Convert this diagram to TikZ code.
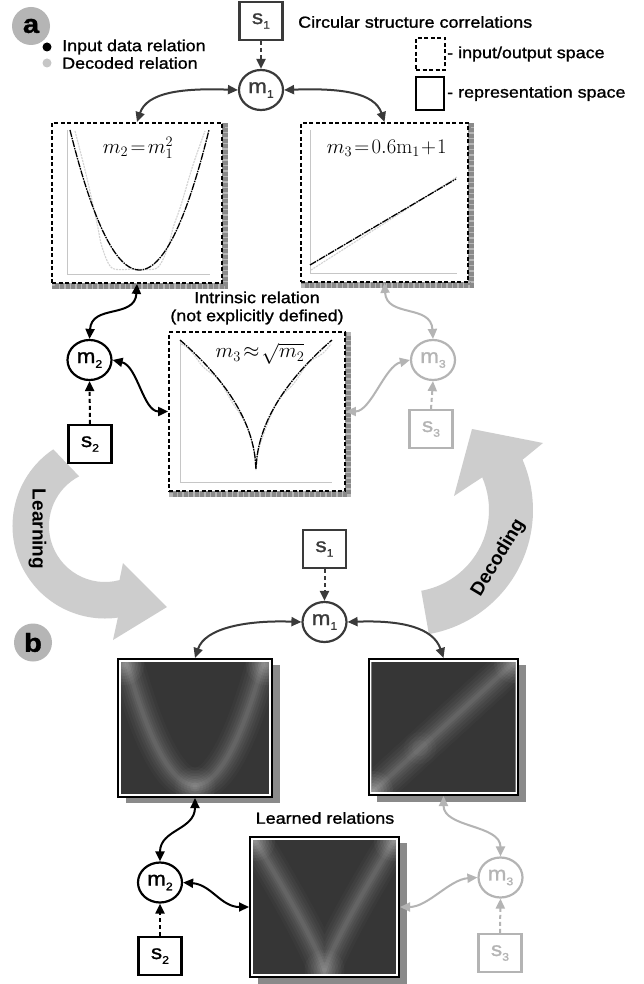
\documentclass[tikz,border=0pt]{standalone}
\usepackage[no-math]{fontspec}
\setmainfont{Liberation Sans}[FakeStretch=1.12, FakeBold=1.2]
\newfontfamily\plainsans{Liberation Sans}
\usetikzlibrary{arrows.meta,calc,shapes.geometric}
\newcommand\sub[1]{\raisebox{-0.45ex}{\fontsize{11}{11}\selectfont #1}}
\newcommand\nodefont{\fontsize{20}{20}\selectfont}
\newcommand\lblfont{\fontsize{16}{18}\selectfont}
\definecolor{dk}{HTML}{3A3A3A}
\definecolor{lg}{HTML}{B4B4B4}
\definecolor{biggray}{HTML}{CDCDCD}
\definecolor{circgray}{HTML}{B5B5B5}
\definecolor{shadowgray}{HTML}{8A8A8A}
\definecolor{heat}{HTML}{363636}
\begin{document}
\begin{tikzpicture}[x=1pt,y=-1pt,
  var/.style={ellipse, draw=#1, line width=2.2pt, minimum width=44pt, minimum height=40pt, inner sep=0pt, text=#1, font=\nodefont, fill=white},
  src/.style={rectangle, draw=#1, line width=2.2pt, minimum width=43pt, minimum height=38pt, inner sep=0pt, text=#1, font=\nodefont, fill=white},
  conn/.style={draw=#1, line width=2pt, {Triangle[length=10pt,width=9pt]}-{Triangle[length=10pt,width=9pt]}},
  dconn/.style={draw=#1, line width=2pt, dash pattern=on 4pt off 3pt, -{Triangle[length=10pt,width=9pt]}},
  plotbox/.style={draw=black, line width=1.8pt, dash pattern=on 4pt off 2.5pt, fill=white, inner sep=0pt},
  heatbox/.style={draw=black, line width=2pt, fill=white, inner sep=0pt},
  axisline/.style={draw=gray!45, line width=1pt},
  datacurve/.style={draw=black, line width=1.3pt, dash pattern=on 7pt off 1pt on 1.5pt off 1pt},
  deccurve/.style={draw=gray!35, line width=1.1pt, dash pattern=on 2pt off 1pt},
  lbl/.style={font=\lblfont, inner sep=0pt},
  formula/.style={inner sep=0pt, font=\fontsize{20}{20}\selectfont},
  panel/.style={circle, fill=circgray, minimum size=38pt, inner sep=0pt, font=\fontsize{26}{26}\selectfont\bfseries},
  bigtxt/.style={font=\plainsans\bfseries\fontsize{19}{19}\selectfont, inner sep=0pt}
]
\fill[white] (0,0) rectangle (644,984);
\useasboundingbox (0,0) rectangle (644,984);

% ---------- big curved arrows ----------
\coordinate (LC) at (105,526);
\fill[biggray] (LC) ++(-124:92.5) arc[start angle=-124, end angle=-278, radius=92.5]
  -- (113,640) -- (167,607) -- (123,563) -- ($(LC)+(-285:56)$)
  arc[start angle=-285, end angle=-117.5, radius=56] -- cycle;
\node[bigtxt, rotate=-90] (learn) at (37.5,529) {Learning};
\coordinate (DC) at (407,510);
\fill[biggray] (DC) ++(80:126) arc[start angle=80, end angle=-23.5, radius=126]
  -- (543,443) -- (472,429) -- (454,496) -- ($(DC)+(-23.5:82)$)
  arc[start angle=-23.5, end angle=80, radius=82] -- cycle;
\node[bigtxt, rotate=59] (decod) at (498.5,558) {Decoding};

% ---------- panel a header ----------
\node[panel] (pa) at (31,26) {a};
\fill[black] (47,47) circle[radius=4.5];
\fill[gray!45] (47,63) circle[radius=4.5];
\node[lbl, anchor=west] (lin) at (62,47) {Input data relation};
\node[lbl, anchor=west] (ldec) at (62,63) {Decoded relation};
\node[lbl, anchor=west] (title) at (298,22) {Circular structure correlations};
\node[draw=black, line width=1.8pt, dash pattern=on 4pt off 2.5pt, minimum width=29pt, minimum height=32pt, inner sep=0pt] (legio) at (430.5,54) {};
\node[lbl, anchor=west] (legiot) at (447,54) {- input/output space};
\node[draw=black, line width=1.8pt, minimum width=28pt, minimum height=33pt, inner sep=0pt] (legrep) at (430,93.5) {};
\node[lbl, anchor=west] (legrept) at (447,93.5) {- representation space};

% ---------- top plots ----------
\foreach \a/\b/\c/\d in {52/123/222/283, 301/123/468/282, 169/332/345/491}{
  \draw[biggray!70!gray, line width=6pt] (\a+3,\b+3) rectangle (\c+3,\d+3);
  \draw[shadowgray, line width=6pt, dash pattern=on 4pt off 1.5pt] (\a+3,\b+3) rectangle (\c+3,\d+3);
}
\node[plotbox, minimum width=170pt, minimum height=160pt] (LP) at (137,203) {};
\node[plotbox, minimum width=167pt, minimum height=159pt] (RP) at (384.5,202.5) {};
\node[plotbox, minimum width=176pt, minimum height=159pt] (MP) at (257,411.5) {};

% left plot
\draw[axisline] (67,130) -- (67,274) -- (210,274);
\draw[deccurve] plot[smooth, tension=0.5] coordinates {(75,131) (85,170) (93,205) (98,228) (102,247) (112,268) (134,269) (157,268) (168,247) (173,228) (181,205) (193,165) (205,131)};
\draw[datacurve] plot[domain=-1:1, samples=60] ({139.5+69.5*\x},{270-140*\x*\x});
\node[formula] (f1) at (138,148) {$m_2\!=\!m_1^2$};
% right plot
\draw[axisline] (310,130) -- (310,273) -- (457,273);
\draw[deccurve] (311,270) -- (457,177);
\draw[datacurve] (310,265) -- (456,179);
\node[formula] (f2) at (386.7,148) {$m_3\!=\!0.6\mathrm{m}_1\!+\!1$};
% middle plot
\draw[axisline] (180,340) -- (180,482) -- (332,482);
\draw[deccurve] plot[domain=-1:1, samples=201] ({256+75*\x},{473-129*sqrt(abs(\x))+2*sin(900*\x)});
\draw[datacurve] plot[domain=-1:1, samples=201] ({256+76*\x},{472-132*sqrt(abs(\x))});
\node[formula] (f3) at (260,354) {$m_3\!\approx\!\sqrt{m_2}$};
\node[lbl, align=center] (intr) at (257,308) {Intrinsic relation\\(not explicitly defined)};

% top nodes
\node[src=dk] (s1) at (261,21) {s\sub{1}};
\node[var=dk] (m1) at (261,90) {m\sub{1}};
\node[var=black] (m2) at (89.5,360) {m\sub{2}};
\node[src=black] (s2) at (90,444) {s\sub{2}};
\node[var=lg] (m3) at (433,360) {m\sub{3}};
\node[src=lg] (s3) at (431,429) {s\sub{3}};

\draw[dconn=dk] (s1.south) -- (m1.north);
\draw[conn=dk] (m1.west) .. controls +(-55,-2) and +(10,-30) .. (LP.north);
\draw[conn=dk] (m1.east) .. controls +(55,-2) and +(-10,-30) .. (RP.north);
\draw[conn=black] (m2.north) .. controls +(2,-35) and +(-2,35) .. (LP.south);
\draw[conn=black] (m2.east) .. controls +(25,6) and +(-25,0) .. (MP.west);
\draw[dconn=black] (s2.north) -- (m2.south);
\draw[conn=lg] (m3.north) .. controls +(-2,-35) and +(2,35) .. (RP.south);
\draw[conn=lg] (m3.west) .. controls +(-25,6) and +(25,0) .. (MP.east);
\draw[dconn=lg] (s3.north) -- (m3.south);

% ---------- panel b ----------
\node[panel] (pb) at (33,642.5) {b};
\node[lbl] (learned) at (325,818) {Learned relations};

% shadows of heat maps
\fill[shadowgray] (126,665) rectangle (280,803);
\fill[shadowgray] (377,665) rectangle (526,802);
\fill[shadowgray] (258,843) rectangle (407,984);
\node[heatbox, minimum width=154pt, minimum height=138pt] (LS) at (195,728) {};
\node[heatbox, minimum width=149pt, minimum height=136pt] (RS) at (443.5,727) {};
\node[heatbox, minimum width=149pt, minimum height=140pt] (MS) at (324.5,907) {};

% left heat map
\begin{scope}
  \clip (120.8,661.8) rectangle (269.2,794.2);
  \fill[heat] (120.8,661.8) rectangle (269.2,794.2);
  \foreach \w/\o in {34/0.025,28/0.03,22/0.035,17/0.04,12/0.045,8/0.05,4/0.05}
    \draw[white, opacity=\o, line width=\w pt, line cap=round] plot[domain=-1.1:1.1, samples=60] ({195+68*\x},{785-122*\x*\x});
  \foreach \r/\o in {20/0.035,17/0.04,14/0.045,11/0.05,8/0.055,5/0.06,2.5/0.06}{
    \fill[white, opacity=\o] (124,665) circle[radius=\r];
    \fill[white, opacity=\o] (266,665) circle[radius=\r];
    \fill[white, opacity=0.7*\o] (195,787) circle[radius=\r];
  }
\end{scope}
% right heat map
\begin{scope}
  \clip (371.3,661.8) rectangle (515.7,792.2);
  \fill[heat] (371.3,661.8) rectangle (515.7,792.2);
  \foreach \w/\o in {36/0.025,30/0.03,24/0.035,18/0.04,13/0.045,8/0.05,4/0.05}
    \draw[white, opacity=\o, line width=\w pt, line cap=round] (366,798) -- (521,656);
  \foreach \r/\o in {20/0.04,17/0.045,14/0.05,11/0.055,8/0.06,5/0.07,2.5/0.07}{
    \fill[white, opacity=\o] (373,791) circle[radius=\r];
    \fill[white, opacity=0.75*\o] (514,663) circle[radius=\r];
  }
  \foreach \r/\o in {16/0.02,12/0.025,8/0.03}
    \fill[white, opacity=\o] (420,748) circle[radius=\r];
\end{scope}
% middle heat map
\begin{scope}
  \clip (252.8,839.8) rectangle (396.2,974.2);
  \fill[heat] (252.8,839.8) rectangle (396.2,974.2);
  \foreach \w/\o in {34/0.025,28/0.03,22/0.035,17/0.04,12/0.045,8/0.05,4/0.05}
    \draw[white, opacity=\o, line width=\w pt, line cap=round] plot[domain=-1.08:1.08, samples=121] ({324.5+68*\x},{971-128*(0.5*abs(\x)+0.5*sqrt(abs(\x))*sqrt(sqrt(abs(\x))))});
  \foreach \r/\o in {20/0.035,17/0.04,14/0.045,11/0.05,8/0.055,5/0.06,2.5/0.06}{
    \fill[white, opacity=\o] (255,841) circle[radius=\r];
    \fill[white, opacity=\o] (394,841) circle[radius=\r];
    \fill[white, opacity=0.75*\o] (324.5,970) circle[radius=\r];
  }
\end{scope}

% bottom nodes
\node[src=dk] (s1b) at (324.5,549) {s\sub{1}};
\node[var=dk] (m1b) at (324.5,622) {m\sub{1}};
\node[var=black] (m2b) at (160,882.5) {m\sub{2}};
\node[src=black] (s2b) at (160,956) {s\sub{2}};
\node[var=lg] (m3b) at (500.5,877.5) {m\sub{3}};
\node[src=lg] (s3b) at (500,953) {s\sub{3}};

\draw[dconn=dk] (s1b.south) -- (m1b.north);
\draw[conn=dk] (m1b.west) .. controls +(-55,-2) and +(10,-30) .. (LS.north);
\draw[conn=dk] (m1b.east) .. controls +(55,-2) and +(-10,-30) .. (RS.north);
\draw[conn=black] (m2b.north) .. controls +(0,-32) and +(0,32) .. (LS.south);
\draw[conn=black] (m2b.east) .. controls +(28,2) and +(-28,0) .. (MS.west);
\draw[dconn=black] (s2b.north) -- (m2b.south);
\draw[conn=lg] (m3b.north) .. controls +(0,-32) and +(0,32) .. (RS.south);
\draw[conn=lg] (m3b.west) .. controls +(-28,2) and +(28,0) .. (MS.east);
\draw[dconn=lg] (s3b.north) -- (m3b.south);
\end{tikzpicture}
\end{document}
